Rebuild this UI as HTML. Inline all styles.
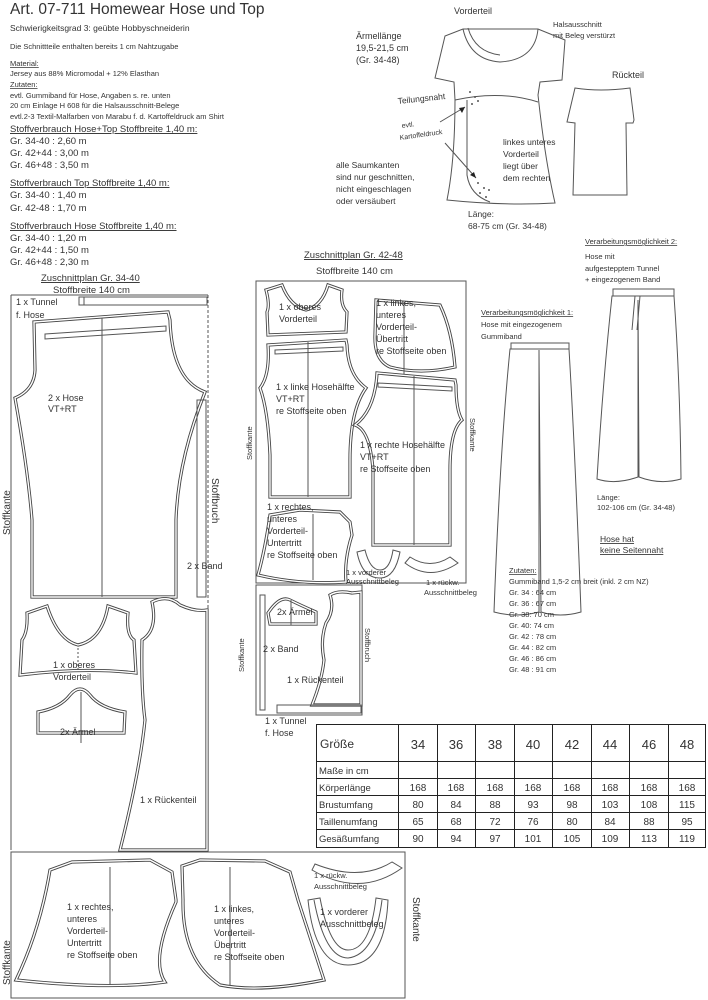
<!DOCTYPE html>
<html><head><meta charset="utf-8"><style>
html,body{margin:0;padding:0;background:#fff}
svg{display:block}
text{font-family:"Liberation Sans",sans-serif;fill:#333}
path[id]{fill:none}
.d{fill:none;stroke:#444;stroke-width:3.2}
.w{fill:none;stroke:#fff;stroke-width:1.4}
.l{fill:none;stroke:#555;stroke-width:1}
.t{font-size:9px}
</style></head><body>
<svg width="708" height="1000" viewBox="0 0 708 1000" xmlns="http://www.w3.org/2000/svg">
<defs>
<path id="hose" d="M34,322 L168,312 L170,320 Q172,380 205,392 Q178,460 176,520 L176,597 L32,597 L32,520 Q28,470 15,398 Q34,390 35,370 Z"/>
<path id="ovt" d="M27,613 L47,606 Q58,640 78,645 Q102,640 108,606 L128,613 Q126,635 134,640 L136,673 Q85,667 20,675 L22,640 Q28,632 27,613Z"/>
<path id="arm" d="M38,712 Q60,708 70,695 Q80,683 90,695 Q100,708 125,712 L124,733 L38,733Z"/>
<path id="rt" d="M152,602 Q168,594 180,605 Q195,612 207,610 L207,850 L120,850 Q140,770 145,720 Q141,690 142,640 Q158,630 152,602Z"/>
<path id="b1" d="M50,870 L72,862 L150,860 L172,872 L176,900 L176,902 Q150,960 165,982 Q110,990 16,980 Q40,930 50,870Z"/>
<path id="b2" d="M182,866 L200,860 L265,861 L290,872 L298,900 L324,980 Q260,993 220,985 Q182,960 183,900Z"/>
<path id="m1" d="M266,290 L282,285 Q290,306 306,310 Q322,306 328,285 L342,290 Q340,305 347,312 L346,332 L268,335 L267,312 Q270,305 266,290Z"/>
<path id="m2" d="M376,300 L440,305 Q452,330 455,367 Q420,375 390,367 Q374,360 375,335Z"/>
<path id="m3" d="M268,345 L346,340 L347,345 Q348,375 366,388 Q350,410 350,460 L350,497 L270,497 L270,455 Q268,410 260,388 Q270,375 268,345Z"/>
<path id="m4" d="M377,373 L455,380 L456,385 Q456,410 462,420 Q450,430 450,470 L450,545 L373,545 L373,470 Q370,430 355,425 Q375,410 377,373Z"/>
<path id="m5" d="M270,515 L300,510 L340,512 L350,522 L352,535 Q344,560 346,582 Q300,585 258,575 Q265,550 270,515Z"/>
<path id="m6" d="M268,613 Q280,595 290,600 Q300,605 316,612 L316,624 L270,624Z"/>
<path id="m7" d="M330,595 Q338,590 352,593 L361,592 L361,705 L312,705 Q322,680 324,660 Q320,640 326,623 Q335,610 330,595Z"/>
</defs>
<!-- Header text -->
<text x="10" y="14" font-size="15.5">Art. 07-711 Homewear Hose und Top</text>
<text x="10" y="31" font-size="8.5">Schwierigkeitsgrad 3: geübte Hobbyschneiderin</text>
<text x="10" y="49" font-size="7.5">Die Schnittteile enthalten bereits 1 cm Nahtzugabe</text>
<text x="10" y="66" font-size="7.5" text-decoration="underline">Material:</text>
<text x="10" y="76" font-size="7.5">Jersey aus  88% Micromodal + 12% Elasthan</text>
<text x="10" y="87" font-size="7.5" text-decoration="underline">Zutaten:</text>
<text x="10" y="98" font-size="7.5">evtl. Gummiband für Hose, Angaben s. re. unten</text>
<text x="10" y="108" font-size="7.5">20 cm Einlage H 608 für die Halsausschnitt-Belege</text>
<text x="10" y="119" font-size="7.5">evtl.2-3 Textil-Malfarben von Marabu f. d. Kartoffeldruck am Shirt</text>
<g font-size="9.5">
<text x="10" y="132" text-decoration="underline">Stoffverbrauch Hose+Top  Stoffbreite 1,40 m:</text>
<text x="10" y="144">Gr. 34-40 :   2,60 m</text>
<text x="10" y="156">Gr. 42+44 :  3,00 m</text>
<text x="10" y="168">Gr. 46+48 :  3,50 m</text>
<text x="10" y="186" text-decoration="underline">Stoffverbrauch Top  Stoffbreite 1,40 m:</text>
<text x="10" y="198">Gr. 34-40 :  1,40 m</text>
<text x="10" y="211">Gr. 42-48 :  1,70 m</text>
<text x="10" y="229" text-decoration="underline">Stoffverbrauch Hose  Stoffbreite 1,40 m:</text>
<text x="10" y="241">Gr. 34-40 :   1,20 m</text>
<text x="10" y="253">Gr. 42+44 :  1,50 m</text>
<text x="10" y="265">Gr. 46+48 :  2,30 m</text>
<text x="41" y="281" text-decoration="underline">Zuschnittplan Gr. 34-40</text>
<text x="53" y="293">Stoffbreite 140 cm</text>
</g>

<!-- LEFT PLAN -->
<line x1="11" y1="295" x2="11" y2="850" class="l"/>
<line x1="11" y1="295" x2="208" y2="295" class="l"/>
<line x1="208" y1="295" x2="208" y2="850" stroke="#555" stroke-dasharray="3,2"/>
<text transform="translate(10,535) rotate(-90)" font-size="10">Stoffkante</text>
<text transform="translate(212,478) rotate(90)" font-size="10">Stoffbruch</text>
<text x="16" y="305" class="t">1 x Tunnel</text>
<text x="16" y="318" class="t">f. Hose</text>
<rect x="79" y="297" width="128" height="8" class="l"/>
<line x1="84" y1="297" x2="84" y2="305" class="l"/>
<use href="#hose" class="d"/><use href="#hose" class="w"/>
<path d="M45,334 L166,326 L166,331 L45,339 Z" class="l"/>
<line x1="102" y1="318" x2="102" y2="597" class="l"/>
<text x="48" y="401" class="t">2 x Hose</text>
<text x="48" y="412" class="t">VT+RT</text>
<rect x="197" y="400" width="9" height="197" class="l"/>
<text x="187" y="569" class="t">2 x Band</text>
<use href="#ovt" class="d"/><use href="#ovt" class="w"/>
<line x1="78" y1="648" x2="78" y2="670" stroke="#555" stroke-dasharray="2,2"/>
<text x="53" y="668" class="t">1 x oberes</text>
<text x="53" y="680" class="t">Vorderteil</text>
<use href="#arm" class="d"/><use href="#arm" class="w"/>
<line x1="81" y1="692" x2="81" y2="743" class="l"/>
<text x="60" y="735" class="t">2x Ärmel</text>
<use href="#rt" class="d"/><use href="#rt" class="w"/>
<text x="140" y="803" class="t">1 x Rückenteil</text>

<!-- bottom box -->
<rect x="11" y="852" width="394" height="146" class="l"/>
<text transform="translate(10,985) rotate(-90)" font-size="10">Stoffkante</text>
<text transform="translate(413,897) rotate(90)" font-size="10">Stoffkante</text>
<use href="#b1" class="d"/><use href="#b1" class="w"/>
<line x1="110" y1="867" x2="110" y2="985" class="l"/>
<text x="67" y="910" class="t">1 x rechtes,</text>
<text x="67" y="922" class="t">unteres</text>
<text x="67" y="934" class="t">Vorderteil-</text>
<text x="67" y="946" class="t">Untertritt</text>
<text x="67" y="958" class="t">re Stoffseite oben</text>
<use href="#b2" class="d"/><use href="#b2" class="w"/>
<line x1="230" y1="867" x2="230" y2="985" class="l"/>
<text x="214" y="912" class="t">1 x linkes,</text>
<text x="214" y="924" class="t">unteres</text>
<text x="214" y="936" class="t">Vorderteil-</text>
<text x="214" y="948" class="t">Übertritt</text>
<text x="214" y="960" class="t">re Stoffseite oben</text>
<path d="M315,864 Q360,882 392,862 L402,868 Q360,898 312,870Z" class="l"/>
<text x="314" y="878" font-size="7.5">1 x rückw.</text>
<text x="314" y="889" font-size="7.5">Ausschnittbeleg</text>
<path d="M308,900 L320,898 Q330,950 348,950 Q370,950 376,898 L388,900 Q385,965 348,965 Q315,965 308,900Z" class="l"/>
<path d="M314,900 Q325,958 348,958 Q375,955 382,900" class="l"/>
<text x="320" y="915" class="t">1 x vorderer</text>
<text x="320" y="927" class="t">Ausschnittbeleg</text>

<!-- MIDDLE PLAN -->
<text x="304" y="258" font-size="9.5" text-decoration="underline">Zuschnittplan Gr. 42-48</text>
<text x="316" y="274" font-size="9.5">Stoffbreite 140 cm</text>
<rect x="256" y="281" width="210" height="302" class="l"/>
<rect x="256" y="585" width="106" height="130" class="l"/>
<text transform="translate(252,460) rotate(-90)" font-size="7.5">Stoffkante</text>
<text transform="translate(470,418) rotate(90)" font-size="7.5">Stoffkante</text>
<text transform="translate(244,672) rotate(-90)" font-size="7.5">Stoffkante</text>
<text transform="translate(365,628) rotate(90)" font-size="7.5">Stoffbruch</text>
<use href="#m1" class="d"/><use href="#m1" class="w"/>
<text x="279" y="310" class="t">1 x oberes</text>
<text x="279" y="322" class="t">Vorderteil</text>
<use href="#m2" class="d"/><use href="#m2" class="w"/>
<line x1="404" y1="302" x2="404" y2="375" class="l"/>
<text x="376" y="306" class="t">1 x linkes,</text>
<text x="376" y="318" class="t">unteres</text>
<text x="376" y="330" class="t">Vorderteil-</text>
<text x="376" y="342" class="t">Übertritt</text>
<text x="376" y="354" class="t">re Stoffseite oben</text>
<use href="#m3" class="d"/><use href="#m3" class="w"/>
<path d="M275,350 L343,347 L343,351 L275,354Z" class="l"/>
<line x1="308" y1="342" x2="308" y2="497" class="l"/>
<text x="276" y="390" class="t">1 x linke Hosehälfte</text>
<text x="276" y="402" class="t">VT+RT</text>
<text x="276" y="414" class="t">re Stoffseite oben</text>
<use href="#m4" class="d"/><use href="#m4" class="w"/>
<path d="M378,383 L452,387 L452,391 L378,387Z" class="l"/>
<line x1="414" y1="376" x2="414" y2="545" class="l"/>
<text x="360" y="448" class="t">1 x rechte Hosehälfte</text>
<text x="360" y="460" class="t">VT+RT</text>
<text x="360" y="472" class="t">re Stoffseite oben</text>
<use href="#m5" class="d"/><use href="#m5" class="w"/>
<line x1="313" y1="514" x2="313" y2="580" class="l"/>
<text x="267" y="510" class="t">1 x rechtes,</text>
<text x="267" y="522" class="t">unteres</text>
<text x="267" y="534" class="t">Vorderteil-</text>
<text x="267" y="546" class="t">Untertritt</text>
<text x="267" y="558" class="t">re Stoffseite oben</text>
<path d="M357,552 L365,550 Q370,570 380,570 Q390,570 393,550 L400,552 Q395,578 380,578 Q362,578 357,552Z" class="l"/>
<text x="346" y="575" font-size="7.5">1 x vorderer</text>
<text x="346" y="584" font-size="7.5">Ausschnittbeleg</text>
<path d="M405,563 L410,557 Q430,570 450,557 L458,563 Q430,582 405,563Z" class="l"/>
<text x="426" y="585" font-size="7.5">1 x rückw.</text>
<text x="424" y="595" font-size="7.5">Ausschnittbeleg</text>
<use href="#m6" class="d"/><use href="#m6" class="w"/>
<line x1="291" y1="600" x2="291" y2="625" class="l"/>
<text x="277" y="615" class="t">2x Ärmel</text>
<rect x="260" y="595" width="5" height="115" class="l"/>
<text x="263" y="652" class="t">2 x Band</text>
<use href="#m7" class="d"/><use href="#m7" class="w"/>
<text x="287" y="683" class="t">1 x Rückenteil</text>
<rect x="277" y="705" width="84" height="8" class="l"/>
<text x="265" y="724" class="t">1 x Tunnel</text>
<text x="265" y="736" class="t">f. Hose</text>

<!-- TOP RIGHT shirt -->
<text x="454" y="14" font-size="9">Vorderteil</text>
<text x="356" y="39" font-size="9">Ärmellänge</text>
<text x="356" y="51" font-size="9">19,5-21,5 cm</text>
<text x="356" y="63" font-size="9">(Gr. 34-48)</text>
<text x="553" y="27" font-size="7.5">Halsausschnitt</text>
<text x="553" y="38" font-size="7.5">mit Beleg verstürzt</text>
<path d="M463,29 Q470,60 500,62 Q535,60 538,29 M468,28 Q475,52 500,55" class="l"/>
<path d="M463,29 L538,29 L565,40 L562,80 L540,82 L538,95 Q545,160 555,203 Q505,206 447,200 Q455,160 455,100 L454,82 L435,78 L445,36 Z" class="l"/>
<path d="M455,100 Q500,90 538,102" class="l"/>
<path d="M467,100 L467,175 Q470,195 490,202" class="l"/>
<g fill="#555"><circle cx="470" cy="92" r="1"/><circle cx="475" cy="97" r="1"/><circle cx="472" cy="104" r="1"/><circle cx="478" cy="101" r="1"/><circle cx="478" cy="183" r="1"/><circle cx="484" cy="188" r="1"/><circle cx="480" cy="193" r="1"/><circle cx="489" cy="190" r="1"/><circle cx="486" cy="197" r="1"/></g>
<text x="398" y="104" font-size="8.5" transform="rotate(-6 398 104)">Teilungsnaht</text>
<text x="402" y="128" font-size="7" transform="rotate(-8 402 128)">evtl.</text>
<text x="400" y="140" font-size="7" transform="rotate(-8 400 140)">Kartoffeldruck</text>
<path d="M440,122 L465,107 M445,143 L476,178" class="l"/>
<path d="M465,107 L459,108 L462,113Z M476,178 L470,175 L474,172Z" fill="#222"/>
<text x="503" y="145" font-size="8.5">linkes unteres</text>
<text x="503" y="157" font-size="8.5">Vorderteil</text>
<text x="503" y="169" font-size="8.5">liegt über</text>
<text x="503" y="181" font-size="8.5">dem rechten</text>
<text x="336" y="168" font-size="8.5">alle Saumkanten</text>
<text x="336" y="180" font-size="8.5">sind nur geschnitten,</text>
<text x="336" y="192" font-size="8.5">nicht eingeschlagen</text>
<text x="336" y="204" font-size="8.5">oder versäubert</text>
<text x="468" y="217" font-size="8.5">Länge:</text>
<text x="468" y="229" font-size="8.5">68-75 cm (Gr. 34-48)</text>
<text x="612" y="78" font-size="9">Rückteil</text>
<path d="M575,88 Q600,92 630,88 L634,120 L633,123 L626,123 L627,195 L573,195 L575,123 L567,122 Z" class="l"/>

<!-- trousers -->
<text x="585" y="244" font-size="7.5" text-decoration="underline">Verarbeitungsmöglichkeit 2:</text>
<text x="585" y="259" font-size="7.5">Hose mit</text>
<text x="585" y="271" font-size="7.5">aufgestepptem Tunnel</text>
<text x="585" y="282" font-size="7.5">+ eingezogenem Band</text>
<rect x="613" y="289" width="61" height="7" class="l"/>
<path d="M612,296 L674,296 Q680,380 681,479 Q660,485 639,477 L638,300 L638,477 Q615,485 597,479 Q603,380 612,296Z" class="l"/>
<path d="M635,296 L632,330 M640,296 L637,330" class="l"/>
<text x="597" y="500" font-size="7.5">Länge:</text>
<text x="597" y="510" font-size="7.5">102-106 cm (Gr. 34-48)</text>
<text x="600" y="542" font-size="8.5" text-decoration="underline">Hose hat</text>
<text x="600" y="553" font-size="8.5" text-decoration="underline">keine Seitennaht</text>
<text x="481" y="315" font-size="7.5" text-decoration="underline">Verarbeitungsmöglichkeit 1:</text>
<text x="481" y="327" font-size="7.5">Hose mit eingezogenem</text>
<text x="481" y="339" font-size="7.5">Gummiband</text>
<rect x="511" y="343" width="58" height="6" class="l"/>
<path d="M510,349 L569,349 Q575,450 581,612 Q560,618 541,612 L539,350 L539,612 Q515,618 494,612 Q500,450 510,349Z" class="l"/>
<text x="509" y="573" font-size="7.5" text-decoration="underline">Zutaten:</text>
<g font-size="7.5">
<text x="509" y="584">Gummiband  1,5-2 cm breit (inkl. 2 cm NZ)</text>
<text x="509" y="595">Gr. 34 : 64 cm</text>
<text x="509" y="606">Gr. 36 : 67 cm</text>
<text x="509" y="617">Gr. 38:  70 cm</text>
<text x="509" y="628">Gr. 40:  74 cm</text>
<text x="509" y="639">Gr. 42 : 78 cm</text>
<text x="509" y="650">Gr. 44 : 82 cm</text>
<text x="509" y="661">Gr. 46 : 86 cm</text>
<text x="509" y="672">Gr. 48 : 91 cm</text>
</g>

<!-- TABLE -->
<g stroke="#222" stroke-width="1" fill="none">
<rect x="316.5" y="724.5" width="389" height="123"/>
<line x1="316" y1="761.5" x2="706" y2="761.5"/>
<line x1="316" y1="778.5" x2="706" y2="778.5"/>
<line x1="316" y1="795.5" x2="706" y2="795.5"/>
<line x1="316" y1="812.5" x2="706" y2="812.5"/>
<line x1="316" y1="829.5" x2="706" y2="829.5"/>
<line x1="398.5" y1="724" x2="398.5" y2="848"/>
<line x1="437.5" y1="724" x2="437.5" y2="848"/>
<line x1="475.5" y1="724" x2="475.5" y2="848"/>
<line x1="514.5" y1="724" x2="514.5" y2="848"/>
<line x1="552.5" y1="724" x2="552.5" y2="848"/>
<line x1="591.5" y1="724" x2="591.5" y2="848"/>
<line x1="629.5" y1="724" x2="629.5" y2="848"/>
<line x1="668.5" y1="724" x2="668.5" y2="848"/>
</g>
<g fill="#222">
<text x="320" y="748" font-size="12">Größe</text>
<g font-size="13" text-anchor="middle">
<text x="418" y="749">34</text><text x="456" y="749">36</text><text x="495" y="749">38</text><text x="533" y="749">40</text><text x="572" y="749">42</text><text x="610" y="749">44</text><text x="649" y="749">46</text><text x="687" y="749">48</text>
</g>
<g font-size="9.5">
<text x="319" y="774">Maße in cm</text>
<text x="319" y="791">Körperlänge</text>
<text x="319" y="808">Brustumfang</text>
<text x="319" y="825">Taillenumfang</text>
<text x="319" y="842">Gesäßumfang</text>
</g>
<g font-size="10" text-anchor="middle">
<text x="418" y="791">168</text><text x="456" y="791">168</text><text x="495" y="791">168</text><text x="533" y="791">168</text><text x="572" y="791">168</text><text x="610" y="791">168</text><text x="649" y="791">168</text><text x="687" y="791">168</text>
<text x="418" y="808">80</text><text x="456" y="808">84</text><text x="495" y="808">88</text><text x="533" y="808">93</text><text x="572" y="808">98</text><text x="610" y="808">103</text><text x="649" y="808">108</text><text x="687" y="808">115</text>
<text x="418" y="825">65</text><text x="456" y="825">68</text><text x="495" y="825">72</text><text x="533" y="825">76</text><text x="572" y="825">80</text><text x="610" y="825">84</text><text x="649" y="825">88</text><text x="687" y="825">95</text>
<text x="418" y="842">90</text><text x="456" y="842">94</text><text x="495" y="842">97</text><text x="533" y="842">101</text><text x="572" y="842">105</text><text x="610" y="842">109</text><text x="649" y="842">113</text><text x="687" y="842">119</text>
</g>
</g>
</svg>
</body></html>
